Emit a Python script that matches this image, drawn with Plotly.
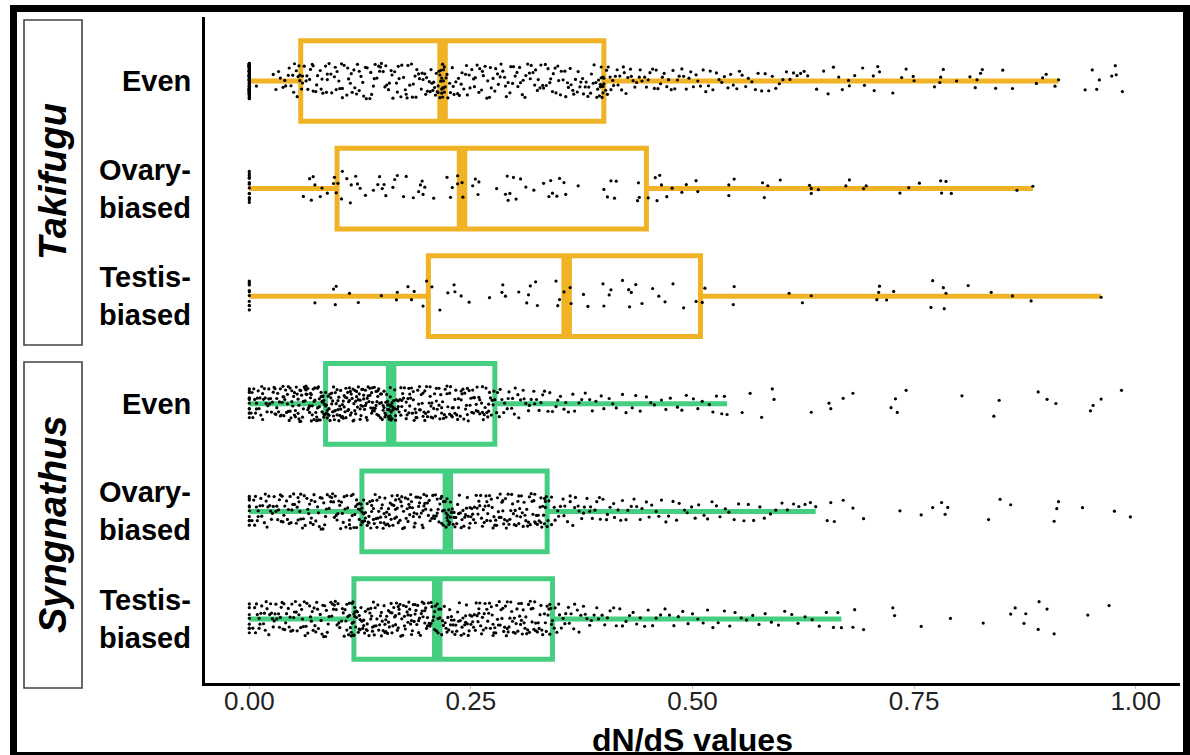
import plotly.graph_objects as go

# ---------------- data ----------------
row_labels = ["Even", "Ovary-<br>biased", "Testis-<br>biased", "Even", "Ovary-<br>biased", "Testis-<br>biased"]
species = ["Takifugu", "Syngnathus"]
tick_vals = [0.0, 0.25, 0.5, 0.75, 1.0]
tick_text = ["0.00", "0.25", "0.50", "0.75", "1.00"]

q1 = [0.058, 0.099, 0.202, 0.086, 0.127, 0.118]
med = [0.218, 0.240, 0.358, 0.160, 0.224, 0.212]
q3 = [0.400, 0.448, 0.509, 0.277, 0.336, 0.342]
lower = [0.0, 0.0, 0.0, 0.0, 0.0, 0.0]
upper = [0.913, 0.884, 0.961, 0.539, 0.639, 0.668]
zero_counts = [90, 15, 10, 12, 10, 8]

tf_even_core = [
    0.008, 0.027, 0.030, 0.033, 0.035, 0.038, 0.040, 0.041, 0.044, 0.045, 0.047, 0.049, 0.050, 0.051, 0.053, 0.054, 0.055, 0.056, 0.057, 0.057,
    0.059, 0.060, 0.060, 0.062, 0.064, 0.065, 0.066, 0.068, 0.069, 0.071, 0.072, 0.072, 0.075, 0.076, 0.077, 0.080, 0.081, 0.082, 0.083, 0.086,
    0.087, 0.088, 0.088, 0.090, 0.092, 0.093, 0.096, 0.097, 0.098, 0.099, 0.101, 0.102, 0.104, 0.105, 0.105, 0.107, 0.110, 0.111, 0.112, 0.114,
    0.115, 0.116, 0.118, 0.119, 0.121, 0.122, 0.124, 0.124, 0.126, 0.128, 0.129, 0.131, 0.132, 0.133, 0.136, 0.137, 0.138, 0.140, 0.141, 0.142,
    0.144, 0.146, 0.147, 0.148, 0.149, 0.151, 0.153, 0.154, 0.155, 0.157, 0.158, 0.160, 0.161, 0.162, 0.164, 0.166, 0.167, 0.168, 0.169, 0.171,
    0.172, 0.174, 0.176, 0.177, 0.178, 0.179, 0.181, 0.183, 0.184, 0.185, 0.187, 0.188, 0.189, 0.191, 0.192, 0.194, 0.195, 0.196, 0.198, 0.199,
    0.200, 0.201, 0.203, 0.204, 0.205, 0.206, 0.207, 0.208, 0.209, 0.210, 0.211, 0.212, 0.213, 0.213, 0.214, 0.215, 0.215, 0.216, 0.216, 0.217,
    0.217, 0.217, 0.218, 0.218, 0.218, 0.219, 0.219, 0.219, 0.220, 0.220,
    0.221, 0.222, 0.223, 0.224, 0.226, 0.227, 0.229, 0.230, 0.231, 0.233, 0.235, 0.236, 0.237, 0.239, 0.240, 0.242, 0.244, 0.245, 0.246, 0.248,
    0.249, 0.251, 0.253, 0.254, 0.255, 0.257, 0.259, 0.260, 0.262, 0.263, 0.264, 0.266, 0.268, 0.269, 0.271, 0.272, 0.273, 0.275, 0.277, 0.278,
    0.280, 0.281, 0.283, 0.284, 0.286, 0.288, 0.289, 0.290, 0.292, 0.294, 0.295, 0.297, 0.298, 0.300, 0.302, 0.303, 0.305, 0.306, 0.308, 0.309,
    0.311, 0.312, 0.314, 0.316, 0.317, 0.318, 0.320, 0.322, 0.323, 0.325, 0.326, 0.328, 0.329, 0.331, 0.332, 0.334, 0.335, 0.337, 0.339, 0.340,
    0.342, 0.343, 0.345, 0.346, 0.348, 0.349, 0.351, 0.352, 0.354, 0.356, 0.357, 0.359, 0.360, 0.362, 0.363, 0.365, 0.366, 0.368, 0.370, 0.371,
    0.373, 0.374, 0.376, 0.377, 0.379, 0.380, 0.382, 0.383, 0.385, 0.386, 0.388, 0.389, 0.391, 0.392, 0.393, 0.394, 0.395, 0.396, 0.396, 0.397,
    0.397, 0.398, 0.398, 0.399, 0.399, 0.399, 0.400, 0.400,
]
tf_even_tail = [
    0.402, 0.403, 0.404, 0.405, 0.407, 0.408, 0.410, 0.411, 0.413, 0.415, 0.416, 0.418, 0.420, 0.422, 0.423, 0.425, 0.427, 0.430, 0.431, 0.433,
    0.435, 0.437, 0.440, 0.441, 0.443, 0.446, 0.448, 0.450, 0.452, 0.455, 0.457, 0.459, 0.461, 0.464, 0.466, 0.468, 0.471, 0.473, 0.476, 0.478,
    0.480, 0.483, 0.485, 0.488, 0.490, 0.493, 0.496, 0.498, 0.501, 0.504, 0.506, 0.509, 0.512, 0.515, 0.518, 0.520, 0.523, 0.527, 0.530, 0.533,
    0.536, 0.540, 0.543, 0.546, 0.550, 0.553, 0.556, 0.560, 0.563, 0.567, 0.571, 0.574, 0.578, 0.582, 0.586, 0.590, 0.594, 0.598, 0.602, 0.606,
    0.610, 0.614, 0.618, 0.622, 0.626, 0.630,
]
tf_even_far = [
    0.640, 0.648, 0.653, 0.659, 0.665, 0.669, 0.676, 0.677, 0.683, 0.692, 0.694, 0.704, 0.705, 0.709, 0.711, 0.726, 0.736, 0.741, 0.749, 0.750,
    0.773, 0.779, 0.780, 0.783, 0.798, 0.813, 0.819, 0.821, 0.825, 0.827, 0.842, 0.850, 0.861, 0.888, 0.895, 0.899, 0.909, 0.913,
    0.943, 0.951, 0.956, 0.959, 0.973, 0.977, 0.978, 0.985,
]

tf_ovary_core = [
    0.061, 0.068, 0.070, 0.072, 0.074, 0.080, 0.082, 0.088, 0.095, 0.096, 0.098, 0.100, 0.104, 0.105, 0.110, 0.114, 0.115, 0.120, 0.122, 0.125,
    0.131, 0.140, 0.145, 0.147, 0.150, 0.152, 0.154, 0.162, 0.164, 0.167, 0.174, 0.177, 0.185, 0.191, 0.193, 0.195, 0.196, 0.198, 0.208, 0.223,
    0.227, 0.229, 0.235, 0.235, 0.240, 0.241, 0.252, 0.255, 0.258, 0.259, 0.279, 0.289, 0.291, 0.292, 0.294, 0.298, 0.301, 0.306, 0.312, 0.321,
    0.332, 0.338, 0.340, 0.342, 0.347, 0.350, 0.355, 0.357, 0.371, 0.400, 0.404, 0.408, 0.412, 0.414, 0.438, 0.439, 0.440,
]
tf_ovary_tail = [
    0.450, 0.458, 0.460, 0.463, 0.465, 0.471, 0.477, 0.488, 0.493, 0.504, 0.506, 0.541, 0.541, 0.547, 0.579, 0.581, 0.585, 0.599, 0.632, 0.634,
    0.634, 0.642, 0.673, 0.677, 0.693, 0.696, 0.734, 0.744, 0.756, 0.780, 0.781, 0.786, 0.792, 0.866, 0.884,
]

tf_testis_core = [
    0.074, 0.095, 0.097, 0.098, 0.113, 0.123, 0.149, 0.166, 0.167, 0.179, 0.183, 0.186, 0.196, 0.200, 0.206, 0.215, 0.224, 0.231, 0.232, 0.239,
    0.248, 0.271, 0.285, 0.286, 0.289, 0.304, 0.313, 0.315, 0.317, 0.323, 0.325, 0.346, 0.348, 0.350, 0.355, 0.362, 0.363, 0.377, 0.382, 0.399,
    0.400, 0.406, 0.408, 0.421, 0.428, 0.429, 0.431, 0.436, 0.443, 0.455, 0.462, 0.469, 0.478, 0.490, 0.504,
]
tf_testis_tail = [
    0.511, 0.514, 0.546, 0.547, 0.609, 0.624, 0.634, 0.708, 0.710, 0.711, 0.719, 0.727, 0.769, 0.771, 0.783, 0.784, 0.786, 0.811, 0.837, 0.861,
    0.882, 0.961,
]

sg_even_core = [
    0.002, 0.003, 0.005, 0.006, 0.008, 0.008, 0.010, 0.011, 0.013, 0.014, 0.015, 0.017, 0.018, 0.019, 0.021, 0.022, 0.023, 0.024, 0.026, 0.027,
    0.028, 0.029, 0.030, 0.031, 0.033, 0.034, 0.035, 0.035, 0.037, 0.038, 0.039, 0.040, 0.041, 0.042, 0.043, 0.044, 0.045, 0.046, 0.047, 0.048,
    0.049, 0.050, 0.051, 0.052, 0.053, 0.054, 0.055, 0.056, 0.056, 0.057, 0.058, 0.059, 0.060, 0.061, 0.062, 0.063, 0.064, 0.064, 0.065, 0.066,
    0.067, 0.068, 0.069, 0.069, 0.070, 0.071, 0.072, 0.073, 0.074, 0.074, 0.075, 0.076, 0.077, 0.078, 0.078, 0.079, 0.080, 0.081, 0.082, 0.082,
    0.083, 0.083, 0.084, 0.084, 0.085, 0.085, 0.086, 0.086,
    0.087, 0.087, 0.088, 0.089, 0.090, 0.090, 0.091, 0.092, 0.093, 0.093, 0.094, 0.095, 0.096, 0.096, 0.097, 0.098, 0.099, 0.099, 0.100, 0.101,
    0.102, 0.102, 0.103, 0.104, 0.105, 0.105, 0.106, 0.107, 0.108, 0.108, 0.109, 0.110, 0.111, 0.111, 0.112, 0.113, 0.114, 0.114, 0.115, 0.116,
    0.117, 0.117, 0.118, 0.119, 0.120, 0.121, 0.121, 0.122, 0.123, 0.124, 0.125, 0.125, 0.126, 0.127, 0.128, 0.129, 0.129, 0.130, 0.131, 0.132,
    0.133, 0.134, 0.134, 0.135, 0.136, 0.137, 0.138, 0.139, 0.139, 0.140, 0.141, 0.142, 0.143, 0.144, 0.144, 0.145, 0.146, 0.147, 0.148, 0.149,
    0.149, 0.150, 0.151, 0.152, 0.153, 0.153, 0.154, 0.155, 0.156, 0.156, 0.157, 0.157, 0.158, 0.158, 0.159, 0.159, 0.159, 0.160, 0.160, 0.160,
    0.161, 0.161, 0.162, 0.163, 0.164, 0.165, 0.166, 0.167, 0.168, 0.169, 0.170, 0.171, 0.172, 0.173, 0.175, 0.176, 0.177, 0.178, 0.179, 0.180,
    0.181, 0.183, 0.184, 0.185, 0.186, 0.187, 0.188, 0.190, 0.191, 0.192, 0.193, 0.194, 0.196, 0.197, 0.198, 0.199, 0.200, 0.202, 0.203, 0.204,
    0.205, 0.206, 0.208, 0.209, 0.210, 0.211, 0.212, 0.214, 0.215, 0.216, 0.217, 0.218, 0.220, 0.221, 0.222, 0.223, 0.224, 0.226, 0.227, 0.228,
    0.229, 0.230, 0.232, 0.233, 0.234, 0.235, 0.236, 0.238, 0.239, 0.240, 0.241, 0.242, 0.244, 0.245, 0.246, 0.247, 0.248, 0.250, 0.251, 0.252,
    0.253, 0.254, 0.256, 0.257, 0.258, 0.259, 0.260, 0.262, 0.263, 0.264, 0.265, 0.266, 0.268, 0.269, 0.270, 0.271, 0.272, 0.274, 0.275, 0.277,
]
sg_even_core_extra = [
    0.004, 0.007, 0.009, 0.012, 0.016, 0.020, 0.025, 0.029, 0.032, 0.036, 0.039, 0.043, 0.046, 0.048, 0.052, 0.055, 0.058, 0.061, 0.063, 0.066,
    0.068, 0.071, 0.073, 0.076, 0.079, 0.081, 0.084, 0.088, 0.091, 0.094, 0.097, 0.100, 0.103, 0.106, 0.109, 0.112, 0.115, 0.118, 0.120, 0.123,
    0.126, 0.128, 0.131, 0.133, 0.136, 0.138, 0.141, 0.143, 0.146, 0.148, 0.151, 0.154, 0.156, 0.159, 0.162, 0.165, 0.168, 0.171, 0.174, 0.177,
    0.180, 0.182, 0.185, 0.189, 0.192, 0.195, 0.198, 0.201, 0.204, 0.207, 0.211, 0.214, 0.217, 0.219, 0.223, 0.226, 0.229, 0.232, 0.236, 0.239,
    0.243, 0.246, 0.249, 0.253, 0.256, 0.260, 0.263, 0.267, 0.270, 0.273, 0.276,
    0.015, 0.022, 0.031, 0.038, 0.044, 0.051, 0.057, 0.064, 0.070, 0.077, 0.083, 0.089, 0.095, 0.101, 0.107, 0.113, 0.119, 0.125, 0.132, 0.139,
    0.145, 0.152, 0.158, 0.164, 0.172, 0.181, 0.188, 0.196, 0.205,
]
sg_even_tail = [
    0.279, 0.280, 0.282, 0.283, 0.285, 0.287, 0.288, 0.291, 0.292, 0.293, 0.296, 0.297, 0.299, 0.300, 0.303, 0.304, 0.306, 0.309, 0.310, 0.312,
    0.315, 0.316, 0.318, 0.321, 0.322, 0.324, 0.327, 0.329, 0.331, 0.333, 0.337, 0.339, 0.342, 0.346, 0.348, 0.351, 0.355, 0.357, 0.360, 0.365,
    0.367, 0.372, 0.375, 0.379, 0.384, 0.387, 0.391, 0.397, 0.400, 0.406, 0.410, 0.414, 0.421, 0.425, 0.432, 0.436, 0.441, 0.448, 0.453, 0.457,
    0.465, 0.470, 0.475, 0.483, 0.488, 0.493, 0.501, 0.506, 0.511, 0.519, 0.523, 0.527, 0.533, 0.536, 0.539,
]
sg_even_far = [
    0.556, 0.565, 0.578, 0.590, 0.592, 0.634, 0.654, 0.656, 0.670, 0.681, 0.724, 0.729, 0.731, 0.741, 0.804, 0.840, 0.846, 0.890, 0.900, 0.910,
    0.949, 0.952, 0.961, 0.984,
]

sg_ovary_core = [
    0.003, 0.005, 0.006, 0.008, 0.009, 0.010, 0.012, 0.013, 0.015, 0.017, 0.018, 0.020, 0.021, 0.023, 0.024, 0.025, 0.027, 0.028, 0.030, 0.032,
    0.033, 0.035, 0.036, 0.038, 0.039, 0.040, 0.042, 0.043, 0.045, 0.047, 0.048, 0.050, 0.051, 0.053, 0.054, 0.055, 0.057, 0.058, 0.060, 0.062,
    0.063, 0.065, 0.066, 0.068, 0.069, 0.070, 0.072, 0.073, 0.075, 0.077, 0.078, 0.080, 0.081, 0.083, 0.084, 0.085, 0.087, 0.088, 0.090, 0.092,
    0.093, 0.095, 0.096, 0.098, 0.099, 0.100, 0.102, 0.103, 0.105, 0.107, 0.108, 0.110, 0.111, 0.113, 0.114, 0.115, 0.117, 0.118, 0.120, 0.121,
    0.122, 0.123, 0.124, 0.125, 0.126, 0.126, 0.127, 0.127, 0.127,
    0.128, 0.129, 0.130, 0.131, 0.131, 0.133, 0.134, 0.135, 0.135, 0.137, 0.138, 0.139, 0.140, 0.141, 0.142, 0.143, 0.144, 0.145, 0.146, 0.148,
    0.148, 0.149, 0.151, 0.152, 0.153, 0.154, 0.155, 0.156, 0.157, 0.158, 0.160, 0.161, 0.161, 0.163, 0.164, 0.165, 0.166, 0.167, 0.168, 0.170,
    0.171, 0.172, 0.173, 0.174, 0.175, 0.177, 0.178, 0.179, 0.180, 0.181, 0.183, 0.184, 0.185, 0.186, 0.187, 0.189, 0.190, 0.191, 0.192, 0.193,
    0.195, 0.196, 0.197, 0.198, 0.199, 0.201, 0.202, 0.203, 0.204, 0.206, 0.207, 0.208, 0.209, 0.211, 0.212, 0.213, 0.215, 0.216, 0.217, 0.218,
    0.219, 0.220, 0.221, 0.222, 0.223, 0.223, 0.224, 0.224, 0.225, 0.225,
    0.226, 0.227, 0.228, 0.230, 0.231, 0.232, 0.233, 0.235, 0.236, 0.237, 0.239, 0.240, 0.241, 0.242, 0.244, 0.245, 0.246, 0.248, 0.249, 0.250,
    0.251, 0.253, 0.254, 0.255, 0.257, 0.258, 0.259, 0.260, 0.262, 0.263, 0.264, 0.266, 0.267, 0.268, 0.269, 0.271, 0.272, 0.273, 0.275, 0.276,
    0.277, 0.278, 0.280, 0.281, 0.282, 0.284, 0.285, 0.286, 0.287, 0.289, 0.290, 0.291, 0.293, 0.294, 0.295, 0.296, 0.298, 0.299, 0.300, 0.302,
    0.303, 0.304, 0.305, 0.307, 0.308, 0.309, 0.311, 0.312, 0.313, 0.314, 0.316, 0.317, 0.318, 0.320, 0.321, 0.322, 0.323, 0.325, 0.326, 0.327,
    0.328, 0.329, 0.330, 0.331, 0.332, 0.333, 0.334, 0.334, 0.335, 0.336,
]
sg_ovary_core_extra = [
    0.007, 0.014, 0.019, 0.026, 0.031, 0.037, 0.044, 0.049, 0.056, 0.061, 0.067, 0.074, 0.079, 0.086, 0.091, 0.097, 0.104, 0.109, 0.116, 0.119,
    0.124, 0.129, 0.133, 0.136, 0.140, 0.144, 0.147, 0.150, 0.154, 0.158, 0.162, 0.165, 0.169, 0.172, 0.176, 0.179, 0.182, 0.186, 0.188, 0.192,
    0.194, 0.197, 0.200, 0.205, 0.210, 0.214, 0.219, 0.222, 0.227, 0.229, 0.234, 0.238, 0.243, 0.247, 0.252, 0.256, 0.261, 0.265, 0.270, 0.274,
    0.279, 0.283, 0.288, 0.292, 0.297, 0.301, 0.306, 0.310, 0.315, 0.319, 0.324, 0.329, 0.333, 0.010, 0.022, 0.034, 0.046, 0.058, 0.070, 0.082,
    0.094, 0.106, 0.113, 0.121, 0.138, 0.152, 0.167, 0.181, 0.196, 0.212, 0.231, 0.249, 0.268, 0.286, 0.304, 0.322, 0.055, 0.101, 0.159, 0.217,
]
sg_ovary_tail = [
    0.337, 0.338, 0.341, 0.341, 0.344, 0.345, 0.348, 0.349, 0.351, 0.354, 0.355, 0.356, 0.359, 0.362, 0.362, 0.365, 0.367, 0.368, 0.371, 0.372,
    0.375, 0.377, 0.378, 0.381, 0.384, 0.385, 0.387, 0.390, 0.392, 0.395, 0.396, 0.399, 0.403, 0.404, 0.407, 0.411, 0.412, 0.416, 0.419, 0.421,
    0.425, 0.427, 0.431, 0.434, 0.437, 0.441, 0.443, 0.448, 0.451, 0.454, 0.459, 0.462, 0.465, 0.470, 0.473, 0.478, 0.482, 0.485, 0.491, 0.494,
    0.499, 0.503, 0.507, 0.513, 0.517, 0.522, 0.527, 0.531, 0.537, 0.541, 0.547, 0.552, 0.558, 0.563, 0.569, 0.576, 0.581, 0.588, 0.594, 0.601,
    0.607, 0.614, 0.620, 0.627, 0.633, 0.639,
]
sg_ovary_far = [
    0.652, 0.656, 0.660, 0.670, 0.681, 0.693, 0.734, 0.758, 0.771, 0.781, 0.785, 0.788, 0.834, 0.847, 0.859, 0.908, 0.911, 0.913, 0.940, 0.976,
    0.994,
]

sg_testis_core = [
    0.004, 0.006, 0.007, 0.009, 0.011, 0.012, 0.014, 0.016, 0.017, 0.019, 0.020, 0.022, 0.024, 0.025, 0.027, 0.028, 0.030, 0.031, 0.033, 0.035,
    0.036, 0.038, 0.039, 0.041, 0.042, 0.044, 0.045, 0.047, 0.048, 0.050, 0.051, 0.053, 0.054, 0.056, 0.057, 0.059, 0.060, 0.062, 0.063, 0.065,
    0.066, 0.068, 0.069, 0.071, 0.072, 0.074, 0.075, 0.077, 0.078, 0.080, 0.081, 0.083, 0.084, 0.086, 0.087, 0.089, 0.090, 0.092, 0.093, 0.095,
    0.096, 0.098, 0.099, 0.101, 0.102, 0.104, 0.105, 0.106, 0.108, 0.109, 0.110, 0.111, 0.112, 0.113, 0.114, 0.115, 0.115, 0.116, 0.117, 0.117,
    0.118, 0.118, 0.118, 0.119, 0.119, 0.119,
    0.120, 0.121, 0.122, 0.123, 0.124, 0.125, 0.126, 0.127, 0.128, 0.129, 0.130, 0.131, 0.132, 0.133, 0.134, 0.135, 0.136, 0.137, 0.138, 0.139,
    0.140, 0.141, 0.142, 0.143, 0.144, 0.146, 0.147, 0.148, 0.149, 0.150, 0.151, 0.152, 0.153, 0.154, 0.155, 0.156, 0.157, 0.158, 0.159, 0.160,
    0.161, 0.162, 0.163, 0.164, 0.165, 0.166, 0.167, 0.168, 0.169, 0.170, 0.172, 0.173, 0.174, 0.175, 0.176, 0.177, 0.178, 0.179, 0.180, 0.181,
    0.182, 0.183, 0.184, 0.185, 0.186, 0.187, 0.188, 0.189, 0.190, 0.191, 0.192, 0.193, 0.194, 0.195, 0.196, 0.198, 0.199, 0.200, 0.201, 0.202,
    0.203, 0.204, 0.205, 0.206, 0.207, 0.208, 0.209, 0.210, 0.211, 0.212,
    0.213, 0.214, 0.216, 0.217, 0.218, 0.220, 0.221, 0.222, 0.224, 0.225, 0.226, 0.228, 0.229, 0.230, 0.232, 0.233, 0.234, 0.236, 0.237, 0.238,
    0.240, 0.241, 0.242, 0.244, 0.245, 0.247, 0.248, 0.249, 0.251, 0.252, 0.253, 0.255, 0.256, 0.257, 0.259, 0.260, 0.261, 0.263, 0.264, 0.265,
    0.267, 0.268, 0.269, 0.271, 0.272, 0.273, 0.275, 0.276, 0.277, 0.279, 0.280, 0.281, 0.283, 0.284, 0.285, 0.287, 0.288, 0.289, 0.291, 0.292,
    0.293, 0.295, 0.296, 0.297, 0.299, 0.300, 0.301, 0.303, 0.304, 0.305, 0.307, 0.308, 0.309, 0.311, 0.312, 0.313, 0.315, 0.316, 0.317, 0.319,
    0.320, 0.322, 0.323, 0.325, 0.327, 0.328, 0.330, 0.331, 0.333, 0.335, 0.336, 0.338, 0.339, 0.340, 0.341, 0.342,
]
sg_testis_core_extra = [
    0.008, 0.013, 0.018, 0.023, 0.029, 0.034, 0.040, 0.046, 0.052, 0.058, 0.064, 0.070, 0.076, 0.082, 0.088, 0.094, 0.100, 0.107, 0.113, 0.116,
    0.121, 0.125, 0.129, 0.133, 0.137, 0.141, 0.145, 0.149, 0.153, 0.157, 0.161, 0.165, 0.169, 0.171, 0.175, 0.179, 0.183, 0.187, 0.191, 0.195,
    0.197, 0.201, 0.205, 0.209, 0.215, 0.219, 0.223, 0.227, 0.231, 0.235, 0.239, 0.243, 0.246, 0.250, 0.254, 0.258, 0.262, 0.266, 0.270, 0.274,
    0.278, 0.282, 0.286, 0.290, 0.294, 0.298, 0.302, 0.306, 0.310, 0.314, 0.318, 0.321, 0.326, 0.329, 0.334, 0.337, 0.011, 0.026, 0.037, 0.049,
    0.061, 0.073, 0.085, 0.097, 0.110, 0.124, 0.139, 0.154, 0.168, 0.182, 0.198, 0.213, 0.228, 0.244, 0.259, 0.275, 0.291, 0.307, 0.323, 0.339,
]
sg_testis_tail = [
    0.344, 0.345, 0.347, 0.349, 0.350, 0.352, 0.354, 0.356, 0.357, 0.360, 0.361, 0.363, 0.366, 0.367, 0.370, 0.372, 0.374, 0.377, 0.379, 0.381,
    0.384, 0.386, 0.389, 0.392, 0.394, 0.398, 0.401, 0.404, 0.407, 0.411, 0.414, 0.418, 0.421, 0.425, 0.429, 0.433, 0.437, 0.441, 0.446, 0.450,
    0.455, 0.459, 0.464, 0.469, 0.474, 0.479, 0.484, 0.489, 0.495, 0.500, 0.506, 0.512, 0.517, 0.523, 0.529, 0.536, 0.542, 0.548, 0.555, 0.561,
    0.568, 0.575, 0.582, 0.589, 0.597, 0.604, 0.612, 0.619, 0.627, 0.635, 0.643, 0.651, 0.659, 0.664, 0.668,
]
sg_testis_far = [
    0.681, 0.683, 0.693, 0.726, 0.728, 0.758, 0.791, 0.828, 0.859, 0.864, 0.874, 0.876, 0.890, 0.891, 0.900, 0.908, 0.946, 0.970,
]

point_sets = [
    [tf_even_core, tf_even_tail, tf_even_far],
    [tf_ovary_core, tf_ovary_tail],
    [tf_testis_core, tf_testis_tail],
    [sg_even_core + sg_even_core_extra, sg_even_tail, sg_even_far],
    [sg_ovary_core + sg_ovary_core_extra, sg_ovary_tail, sg_ovary_far],
    [sg_testis_core + sg_testis_core_extra, sg_testis_tail, sg_testis_far],
]

# ---------------- style ----------------
ORANGE = "#EFB325"
GREEN = "#45CE80"
row_colors = [ORANGE, ORANGE, ORANGE, GREEN, GREEN, GREEN]
FONT = "Liberation Sans"
BOX_W = 0.75

W_FIG, H_FIG = 1190, 755
L, R, T, B = 205, 10, 17, 72
PW, PH = W_FIG - L - R, H_FIG - T - B


def px_x(px):
    return (px - L) / PW


def px_y(py):
    return (H_FIG - B - py) / PH


fig = go.Figure()

# boxes (precomputed statistics)
for i in range(6):
    fig.add_trace(go.Box(
        y=[i], q1=[q1[i]], median=[med[i]], q3=[q3[i]],
        lowerfence=[lower[i]], upperfence=[upper[i]],
        orientation="h", width=BOX_W, boxpoints=False, whiskerwidth=0,
        line=dict(color=row_colors[i], width=5),
        fillcolor="rgba(255,255,255,0)", showlegend=False, hoverinfo="skip",
    ))

# jittered points (plotly's own jitter)
for i in range(6):
    sets = [[0.0] * zero_counts[i]] + point_sets[i]
    for vals in sets:
        fig.add_trace(go.Box(
            x=vals, y0=i, orientation="h", width=BOX_W,
            boxpoints="all", jitter=0.44, pointpos=0,
            marker=dict(color="black", size=3.2, line=dict(width=0)),
            line=dict(width=0, color="rgba(0,0,0,0)"),
            fillcolor="rgba(0,0,0,0)", showlegend=False, hoverinfo="x",
        ))

shapes = []
# thick median bars
for i in range(6):
    shapes.append(dict(type="line", xref="x", yref="y", layer="below",
                       x0=med[i], x1=med[i], y0=i - BOX_W / 2, y1=i + BOX_W / 2,
                       line=dict(color=row_colors[i], width=10.5)))
# facet strips
for (top, bot) in [(20, 345), (362, 688)]:
    shapes.append(dict(type="rect", xref="paper", yref="paper",
                       x0=px_x(24), x1=px_x(82), y0=px_y(bot), y1=px_y(top),
                       line=dict(color="#444444", width=1.6), fillcolor="white", layer="below"))
# outer frame
shapes.append(dict(type="rect", xref="paper", yref="paper",
                   x0=px_x(13.5), x1=px_x(1186.5), y0=px_y(755.5), y1=px_y(8.5),
                   line=dict(color="black", width=7), fillcolor="rgba(0,0,0,0)", layer="above"))

annotations = []
for i, lab in enumerate(row_labels):
    annotations.append(dict(text="<b>" + lab + "</b>", xref="paper", yref="y", x=px_x(193), y=i,
                            xanchor="right", yanchor="middle", align="right", showarrow=False,
                            font=dict(family=FONT, size=29, color="black")))
for sp, cy in zip(species, [182, 525]):
    annotations.append(dict(text="<b><i>" + sp + "</i></b>", xref="paper", yref="paper",
                            x=px_x(53), y=px_y(cy), textangle=-90, showarrow=False,
                            xanchor="center", yanchor="middle",
                            font=dict(family=FONT, size=38, color="black")))
annotations.append(dict(text="<b>dN/dS values</b>", xref="paper", yref="paper", x=0.5, y=px_y(740),
                        xanchor="center", yanchor="middle", showarrow=False,
                        font=dict(family=FONT, size=32, color="black")))

fig.update_layout(
    width=W_FIG, height=H_FIG,
    margin=dict(l=L, r=R, t=T, b=B, pad=0),
    paper_bgcolor="white", plot_bgcolor="white",
    showlegend=False, boxmode="overlay",
    shapes=shapes, annotations=annotations,
    font=dict(family=FONT),
    xaxis=dict(range=[-0.05, 1.05], tickvals=tick_vals, ticktext=tick_text,
               tickfont=dict(family=FONT, size=26, color="#222222"),
               showgrid=False, zeroline=False, showline=True, linecolor="black", linewidth=3,
               ticks="outside", ticklen=3, tickwidth=1, tickcolor="#bbbbbb",
               ticklabelstandoff=-10),
    yaxis=dict(range=[5.595, -0.595], showticklabels=False, showgrid=False, zeroline=False,
               showline=True, linecolor="black", linewidth=3, ticks=""),
)

fig.write_html("out.html")
